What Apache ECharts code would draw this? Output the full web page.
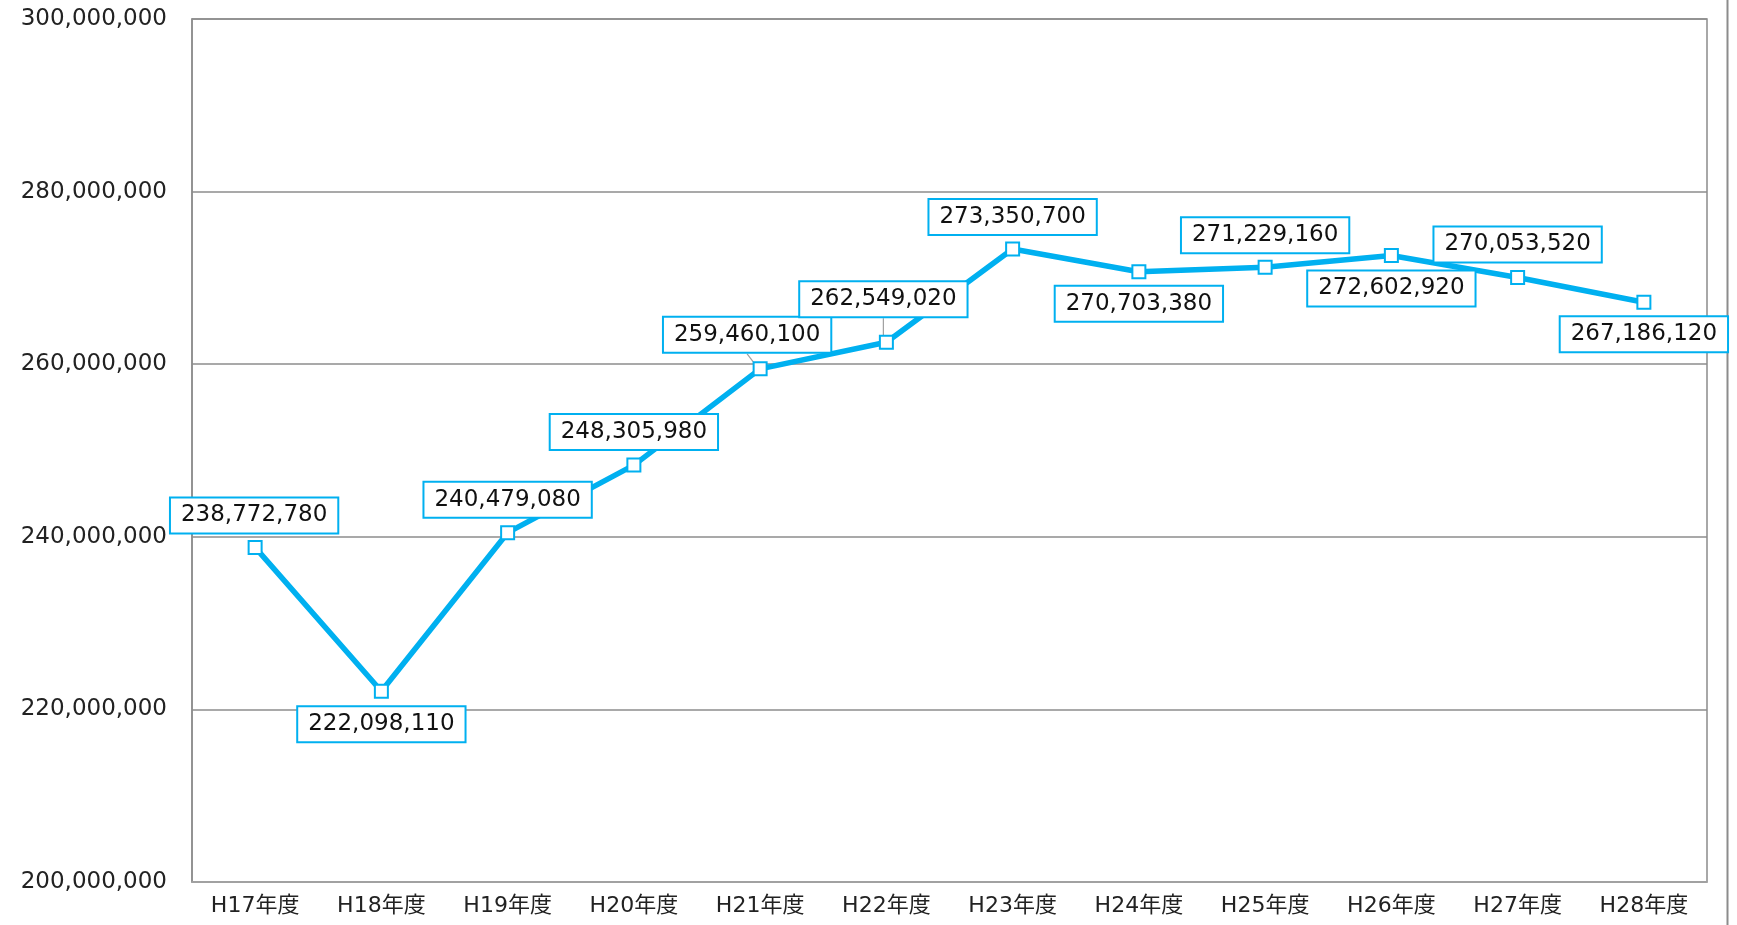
<!DOCTYPE html>
<html><head><meta charset="utf-8">
<script src="https://cdn.jsdelivr.net/npm/echarts@6/dist/echarts.min.js"></script>
<style>html,body{margin:0;padding:0;background:#fff}#c{width:1737px;height:925px}</style>
</head><body><div id="c"></div>
<script>
const categories = ['H17年度','H18年度','H19年度','H20年度','H21年度','H22年度','H23年度','H24年度','H25年度','H26年度','H27年度','H28年度'];
const values = [238772780,222098110,240479080,248305980,259460100,262549020,273350700,270703380,271229160,272602920,270053520,267186120];
const yMin = 200000000, yMax = 300000000, yStep = 20000000;
// label placement relative to each point (layout only)
const labelDx = [-1,0,0,0,-13,-3,0,0,0,0,0,0];
const labelDy = [-32,33,-33,-33,-34,-43,-32,32,-32,33,-33,32];
const leaderIdx = [4,5];

const fmt = v => v.toString().replace(/\B(?=(\d{3})+(?!\d))/g, ',');
const FONT = '"DejaVu Sans", "Noto Sans CJK JP", sans-serif';
const chart = echarts.init(document.getElementById('c'), null, {renderer:'canvas'});
chart.setOption({
  animation:false,
  backgroundColor:'#fff',
  grid:{left:192,top:19,right:30,bottom:43,show:true,borderColor:'#8c8c8c',borderWidth:1.5,backgroundColor:'transparent'},
  xAxis:{type:'category',data:categories,boundaryGap:true,
    axisTick:{show:false},axisLine:{lineStyle:{color:'#a6a6a6',width:1.5}},
    axisLabel:{color:'#222',fontFamily:FONT,fontSize:22,margin:13}},
  yAxis:{type:'value',min:yMin,max:yMax,interval:yStep,
    axisLine:{show:true,lineStyle:{color:'#8c8c8c',width:1.5}},axisTick:{show:false},
    splitLine:{lineStyle:{color:'#8c8c8c',width:1.5}},
    axisLabel:{color:'#222',fontFamily:FONT,fontSize:23,margin:25,formatter:fmt}},
  graphic:[{type:'line',shape:{x1:1727.5,y1:0,x2:1727.5,y2:925},style:{stroke:'#8c8c8c',lineWidth:2}}],
  series:[{
    type:'line',
    data:values.map((v,i)=>({value:v,labelLine:{show:leaderIdx.includes(i)}})),
    lineStyle:{color:'#00B0F0',width:5.5},
    itemStyle:{color:'#fff',borderColor:'#00B0F0',borderWidth:2},
    symbol:'rect',symbolSize:13,
    label:{show:true,position:'inside',formatter:p=>fmt(p.value),
      fontFamily:FONT,fontSize:23,color:'#111',backgroundColor:'#fff',
      borderColor:'#00B0F0',borderWidth:2,padding:[6,10,6,10],lineHeight:22},
    labelLine:{show:false,lineStyle:{color:'#a0a0a0',width:1.2}},
    labelLayout:p=>({dx:labelDx[p.dataIndex],dy:labelDy[p.dataIndex]}),
    z:3
  }]
});
</script></body></html>
